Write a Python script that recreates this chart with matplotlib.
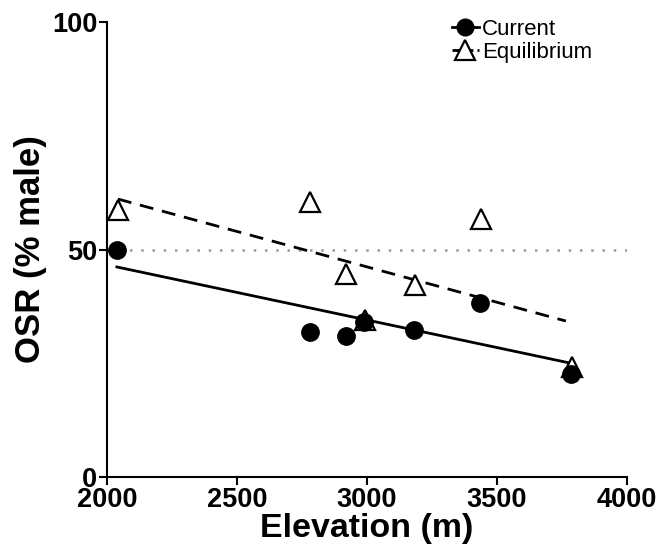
import numpy as np
import matplotlib
matplotlib.use("Agg")
import matplotlib.pyplot as plt
from matplotlib.lines import Line2D

plt.rcParams['font.family'] = ['Liberation Sans', 'DejaVu Sans']

elevation = np.array([2038, 2781, 2919, 2988, 3181, 3435, 3785])
current = np.array([50.0, 31.8, 30.9, 34.0, 32.3, 38.3, 22.7])
equilibrium = np.array([58.6, 60.4, 44.7, 34.4, 42.1, 56.6, 24.2])
equil_x = np.array([2042, 2781, 2919, 2992, 3185, 3438, 3788])

fig = plt.figure(figsize=(6.6, 5.54), dpi=100)
ax = fig.add_axes([107 / 660, 77 / 554, 520 / 660, 455 / 554])

ax.axhline(50, color='#999999', lw=1.8, ls=(0, (1, 3.5)), zorder=1)

# regression lines
p_c = np.polyfit(elevation, current, 1)
p_e = np.polyfit(equil_x, equilibrium, 1)
xs = np.array([elevation.min(), elevation.max()])
ax.plot(xs, np.polyval(p_c, xs), color='black', lw=2.0, zorder=2)
xe = np.array([equil_x.min(), 3765])
ax.plot(xe, np.polyval(p_e, xe), color='black', lw=2.0, ls=(0, (5, 3.2)), zorder=2)

ax.plot(equil_x, equilibrium, ls='none', marker='^', ms=15, mfc='white',
        mec='black', mew=1.6, zorder=3)
ax.plot(elevation, current, ls='none', marker='o', ms=12.5, mfc='black',
        mec='black', zorder=4)

ax.set_xlim(2000, 4000)
ax.set_ylim(0, 100)
ax.set_xticks([2000, 2500, 3000, 3500, 4000])
ax.set_yticks([0, 50, 100])
for s in ['top', 'right']:
    ax.spines[s].set_visible(False)
for s in ['left', 'bottom']:
    ax.spines[s].set_linewidth(1.5)
ax.tick_params(direction='out', length=6, width=1.5, labelsize=19.5, pad=1)
for lab in ax.get_xticklabels() + ax.get_yticklabels():
    lab.set_fontweight('bold')
ax.set_xlabel('Elevation (m)', fontsize=24.5, fontweight='bold', labelpad=0)
ax.set_ylabel('OSR (% male)', fontsize=25, fontweight='bold', labelpad=3.5)

handles = [
    Line2D([], [], color='black', lw=2, marker='o', ms=12, mfc='black'),
    Line2D([], [], color='black', lw=2, ls=(0, (3, 1.5)), marker='^', ms=14,
           mfc='white', mew=1.6),
]
fig.legend(handles, ['Current', 'Equilibrium'], loc='upper left',
           bbox_to_anchor=(452 / 660, 1 - 19 / 554), frameon=False, fontsize=16,
           handlelength=1.2, handletextpad=0.15, labelspacing=0.1,
           borderpad=0, borderaxespad=0)

fig.savefig('out.png', dpi=100)
